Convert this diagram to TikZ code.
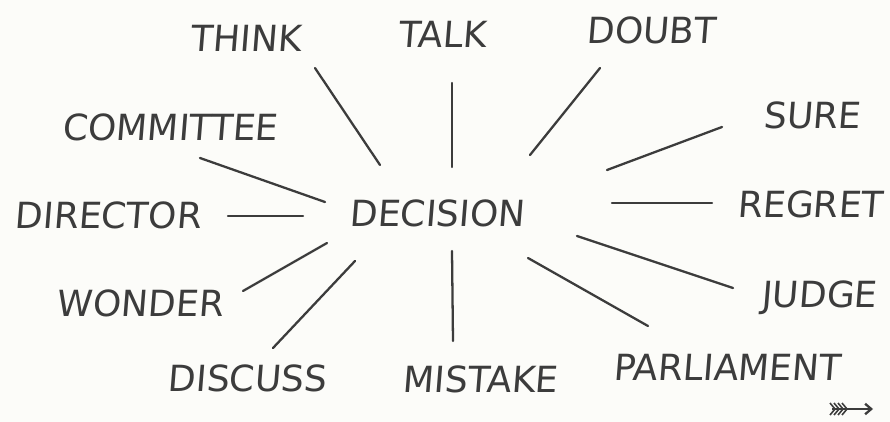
\documentclass[tikz,border=0pt]{standalone}
\usepackage{fontspec}
\setmainfont{DejaVu Sans}[FakeSlant=0.08]
\usetikzlibrary{arrows.meta}
\definecolor{pen}{HTML}{3C3C3C}
\definecolor{paper}{HTML}{FCFCF9}
\tikzset{
  word/.style={text=pen, font=\fontsize{20.5}{21}\selectfont, inner sep=0pt},
  spoke/.style={draw=pen, line width=1.3pt, line cap=round}
}
\begin{document}
\begin{tikzpicture}[x=0.2mm, y=-0.2mm]
  \fill[paper] (0,0) rectangle (890,422);
  \useasboundingbox (0,0) rectangle (890,422);
  % the centre word
  \node[word] (decision) at (437,213) {DECISION};
  % words round it
  \node[word] (think) at (246,38) {THINK};
  \node[word] (talk) at (442,34) {TALK};
  \node[word] (doubt) at (651,30) {DOUBT};
  \node[word] (sure) at (812,115) {SURE};
  \node[word] (regret) at (810,204) {REGRET};
  \node[word] (judge) at (819,298) {JUDGE};
  \node[word] (parliament) at (727,367) {PARLIAMENT};
  \node[word] (mistake) at (480,379) {MISTAKE};
  \node[word] (discuss) at (247,378) {DISCUSS};
  \node[word] (wonder) at (140,303) {WONDER};
  \node[word] (director) at (108,215) {DIRECTOR};
  \node[word] (committee) at (170,127) {COMMITTEE};
  % ends of the spokes
  \coordinate (think-a) at (380,165);     \coordinate (think-b) at (315,68);
  \coordinate (talk-a) at (452,167);      \coordinate (talk-b) at (452,83);
  \coordinate (doubt-a) at (530,155);     \coordinate (doubt-b) at (600,68);
  \coordinate (sure-a) at (607,170);      \coordinate (sure-b) at (722,127);
  \coordinate (regret-a) at (612,203);    \coordinate (regret-b) at (712,203);
  \coordinate (judge-a) at (577,236);     \coordinate (judge-b) at (733,288);
  \coordinate (parliament-a) at (528,258); \coordinate (parliament-b) at (648,326);
  \coordinate (mistake-a) at (452,251);   \coordinate (mistake-b) at (453,341);
  \coordinate (discuss-a) at (355,261);   \coordinate (discuss-b) at (273,348);
  \coordinate (wonder-a) at (327,243);    \coordinate (wonder-b) at (243,291);
  \coordinate (director-a) at (303,216);  \coordinate (director-b) at (228,216);
  \coordinate (committee-a) at (325,202); \coordinate (committee-b) at (200,158);
  \draw[spoke] (think-a) -- (think-b);
  \draw[spoke] (talk-a) -- (talk-b);
  \draw[spoke] (doubt-a) -- (doubt-b);
  \draw[spoke] (sure-a) -- (sure-b);
  \draw[spoke] (regret-a) -- (regret-b);
  \draw[spoke] (judge-a) -- (judge-b);
  \draw[spoke] (parliament-a) -- (parliament-b);
  \draw[spoke] (mistake-a) -- (mistake-b);
  \draw[spoke] (discuss-a) -- (discuss-b);
  \draw[spoke] (wonder-a) -- (wonder-b);
  \draw[spoke] (director-a) -- (director-b);
  \draw[spoke] (committee-a) -- (committee-b);
  % little arrow bottom right
  \coordinate (tail) at (832,409);
  \coordinate (head) at (873,409);
  \draw[draw=pen, line width=1.3pt, -{Straight Barb[length=3.5pt,width=6pt]}] (tail) -- (head);
  \draw[draw=pen, line width=0.9pt] (830,403) -- (835,409) -- (830,415)
    (834,403) -- (839,409) -- (834,415)
    (838,403) -- (843,409) -- (838,415)
    (842,403) -- (847,409) -- (842,415);
\end{tikzpicture}
\end{document}
